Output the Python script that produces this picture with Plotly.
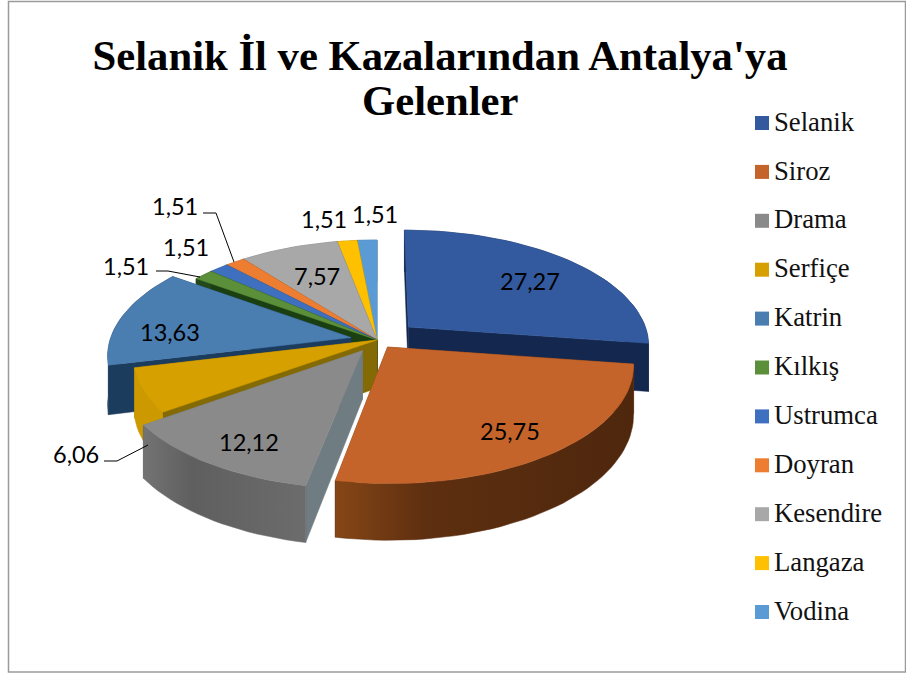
import math
import plotly.graph_objects as go

categories = ["Selanik", "Siroz", "Drama", "Serfiçe", "Katrin", "Kılkış", "Ustrumca", "Doyran", "Kesendire", "Langaza", "Vodina"]
values = [27.27, 25.75, 12.12, 6.06, 13.63, 1.51, 1.51, 1.51, 7.57, 1.51, 1.51]
value_labels = ["27,27", "25,75", "12,12", "6,06", "13,63", "1,51", "1,51", "1,51", "7,57", "1,51", "1,51"]
explode = [0.175, 0.075, 0.11, 0.0, 0.11, 0, 0, 0, 0, 0, 0]
top_colors = ["#335a9f", "#c5642a", "#8a8a8a", "#d6a000", "#4a7db0", "#5c8f3a", "#3f70c0", "#ed7d31", "#a8a8a8", "#ffc000", "#5b9bd5"]
wall_colors = ["#14284f", "#5e2f10", "#666666", "#cc9a00", "#1c3c5e", "#23491a", "#24447c", "#8e4a1c", "#6a6a6a", "#8a7000", "#35608a"]
face_colors = ["#14284f", "#6e3a15", "#6f7c82", "#836a05", "#1c3c5e", "#1a4012", "#24447c", "#8e4a1c", "#6a6a6a", "#8a7000", "#35608a"]
wall_gradients = {1: ["#864616", "#5e2f10", "#4e270d"], 2: ["#737373", "#5f5f5f", "#6c6c6c"]}
draw_order = [10, 9, 8, 7, 6, 5, 0, 4, 3, 2, 1]

CX, CY, RX, RY, K, H = 377, 340, 241, 114.5, 0.145, 48

total = sum(values)
starts = [360 * sum(values[:i]) / total for i in range(len(values))]
ends = [360 * sum(values[:i + 1]) / total for i in range(len(values))]


def project(r, deg, ox=0.0, oy=0.0, drop=0.0):
    t = math.radians(deg)
    p = 1 / (1 + K * (r * math.cos(t) + oy))
    x = CX + RX * (r * math.sin(t) + ox) * p
    y = CY - RY * (r * math.cos(t) + oy) * p + drop * p
    return x, y


def poly(fig, pts, color, name, gradient=None):
    xs = [q[0] for q in pts] + [pts[0][0]]
    ys = [q[1] for q in pts] + [pts[0][1]]
    extra = {}
    if gradient:
        # colours run from the right end of the wall (index 0 at the left edge of the box)
        extra["fillgradient"] = dict(type="horizontal", colorscale=[[0, gradient[0]], [0.3, gradient[1]], [1, gradient[2]]])
    else:
        extra["fillcolor"] = color
    fig.add_trace(go.Scatter(x=xs, y=ys, mode="lines", fill="toself",
                             line=dict(color=color, width=0.5), name=name, hoverinfo="name", showlegend=False, **extra))


fig = go.Figure()
for i in draw_order:
    a0, a1 = starts[i], ends[i]
    mid = math.radians((a0 + a1) / 2)
    ox, oy = explode[i] * math.sin(mid), explode[i] * math.cos(mid)
    n = max(4, int((a1 - a0) / 2))
    angs = [a0 + (a1 - a0) * j / n for j in range(n + 1)]
    name = categories[i]
    for a in (a0, a1):
        poly(fig, [project(0, a, ox, oy), project(1, a, ox, oy), project(1, a, ox, oy, H), project(0, a, ox, oy, H)], face_colors[i], name)
    poly(fig, [project(1, a, ox, oy) for a in angs] + [project(1, a, ox, oy, H) for a in reversed(angs)], wall_colors[i], name, wall_gradients.get(i))
    poly(fig, [project(0, a0, ox, oy)] + [project(1, a, ox, oy) for a in angs], top_colors[i], name)

# legend drawn as labelled squares
fig.add_trace(go.Scatter(x=[762] * len(categories), y=[123 + 48.9 * i for i in range(len(categories))], mode="markers", showlegend=False, hoverinfo="skip",
                         marker=dict(symbol="square", size=14, color=top_colors, line=dict(width=0))))
fig.add_trace(go.Scatter(x=[774] * len(categories), y=[124 + 48.9 * i for i in range(len(categories))], mode="text", text=categories, textposition="middle right",
                         showlegend=False, hoverinfo="skip",
                         textfont=dict(family="Liberation Serif", size=26.7, color="#111111")))

# data labels
label_pos = [(530, 281), (510, 431), (249, 442), (76, 454), (170, 332), (126, 266), (186, 247), (175, 206), (317, 276), (324, 219), (375, 214)]
annotations = [dict(x=px, y=py, text=t, showarrow=False, xref="x", yref="y",
                    font=dict(family="Lato", size=23.5, color="#000000"))
               for (px, py), t in zip(label_pos, value_labels)]
annotations.append(dict(x=440, y=100, text="Gelenler", showarrow=False, xref="x", yref="y",
                        font=dict(family="Liberation Serif", size=42.7, color="#000000", weight="bold")))
leaders = [[(104, 461), (117, 461), (148, 445)],
           [(156, 271), (168, 271), (200, 277)],
           [(203, 213), (216, 213), (234, 262)]]
for pts in leaders:
    fig.add_trace(go.Scatter(x=[q[0] for q in pts], y=[q[1] for q in pts], mode="lines",
                             line=dict(color="#000000", width=1), hoverinfo="skip", showlegend=False))

fig.update_layout(
    width=906, height=673, margin=dict(l=0, r=0, t=0, b=0),
    paper_bgcolor="#ffffff", plot_bgcolor="#ffffff", showlegend=False,
    xaxis=dict(range=[0, 906], visible=False, fixedrange=True),
    yaxis=dict(range=[673, 0], visible=False, fixedrange=True),
    title=dict(text="Selanik İl ve Kazalarından Antalya'ya",
               font=dict(family="Liberation Serif", size=42.7, color="#000000", weight="bold"),
               x=440 / 906, xanchor="center", y=1 - 55 / 673, yanchor="middle"),
    annotations=annotations,
    shapes=[dict(type="rect", xref="x", yref="y", x0=8.5, y0=1.5, x1=905.5, y1=672, line=dict(color="#9a9a9a", width=1.5), layer="below")],
)
fig.write_html("out.html", config={"displayModeBar": False},
               post_script="document.body.style.margin='0';document.body.style.overflow='hidden';")
